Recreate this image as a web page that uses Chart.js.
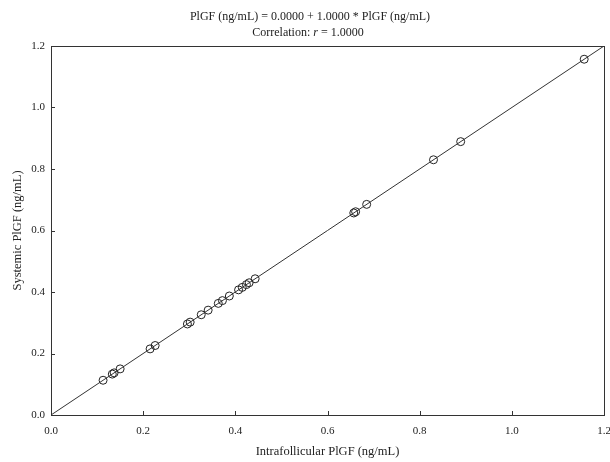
<!DOCTYPE html>
<html>
<head>
<meta charset="utf-8">
<script src="https://cdn.jsdelivr.net/npm/chart.js@4"></script>
<style>
html,body{margin:0;padding:0;background:#fff;}
#wrap{width:610px;height:462px;}
</style>
</head>
<body>
<div id="wrap"><canvas id="c" width="610" height="462"></canvas></div>
<script>
// ---- data ----
const intrafollicular = [0.113,0.133,0.137,0.150,0.215,0.226,0.296,0.302,0.326,0.341,0.363,0.372,0.387,0.407,0.415,0.424,0.430,0.443,0.657,0.661,0.685,0.830,0.889,1.157];
const systemic        = [0.113,0.133,0.137,0.150,0.215,0.226,0.296,0.302,0.326,0.341,0.363,0.372,0.387,0.407,0.415,0.424,0.430,0.443,0.657,0.661,0.685,0.830,0.889,1.157];
const fitIntercept = 0.0;
const fitSlope = 1.0;
const fitRange = [0.0, 1.2];
const axisTicks = [0.0, 0.2, 0.4, 0.6, 0.8, 1.0, 1.2];
const titleLine1 = "PlGF (ng/mL) = 0.0000 + 1.0000 * PlGF (ng/mL)";
const titleLine2Parts = ["Correlation: ", "r", " = 1.0000"];
const xTitle = "Intrafollicular PlGF (ng/mL)";
const yTitle = "Systemic PlGF (ng/mL)";

const FONT = "'Liberation Serif','Times New Roman',serif";
const TXT = "#222";

const points = intrafollicular.map((x,i)=>({x:x, y:systemic[i]}));
const fitLine = fitRange.map(x=>({x:x, y:fitIntercept + fitSlope*x}));

const framePlugin = {
  id:'frame',
  afterDraw(chart){
    const {ctx, chartArea:a, scales} = chart;
    ctx.save();
    ctx.strokeStyle = '#333';
    ctx.lineWidth = 1;
    ctx.strokeRect(a.left+0.5, a.top+0.5, a.right-a.left, a.bottom-a.top);
    ctx.beginPath();
    axisTicks.forEach(v=>{
      const px = Math.round(scales.x.getPixelForValue(v))+0.5;
      ctx.moveTo(px, a.bottom); ctx.lineTo(px, a.bottom-4);
      const py = Math.round(scales.y.getPixelForValue(v))+0.5;
      ctx.moveTo(a.left, py); ctx.lineTo(a.left+4, py);
    });
    ctx.stroke();
    // title
    ctx.fillStyle = TXT;
    ctx.textBaseline = 'middle';
    ctx.textAlign = 'center';
    const cx = 310;
    ctx.font = "12px " + FONT;
    ctx.fillText(titleLine1, cx, 17);
    const fN = "12px " + FONT, fI = "italic 12px " + FONT;
    ctx.textAlign = 'left';
    const widths = titleLine2Parts.map((t,i)=>{ctx.font = i===1?fI:fN; return ctx.measureText(t).width;});
    let x = cx - 2 - widths.reduce((s,w)=>s+w,0)/2;
    titleLine2Parts.forEach((t,i)=>{ctx.font = i===1?fI:fN; ctx.fillText(t, x, 33); x += widths[i];});
    ctx.restore();
  }
};

new Chart(document.getElementById('c'), {
  data:{
    datasets:[
      {type:'scatter', data:points, borderColor:'#222', backgroundColor:'rgba(0,0,0,0)', borderWidth:1, pointRadius:4, pointHoverRadius:4, order:2},
      {type:'line', data:fitLine, borderColor:'#333', borderWidth:1, pointRadius:0, fill:false, order:1}
    ]
  },
  options:{
    responsive:false,
    animation:false,
    events:[],
    layout:{padding:{left:0, right:6, top:46, bottom:0}},
    plugins:{legend:{display:false}, tooltip:{enabled:false}, title:{display:false}},
    scales:{
      x:{
        type:'linear', min:0, max:1.2,
        afterBuildTicks(s){ s.ticks = axisTicks.map(v=>({value:v})); },
        afterFit(s){ s.height = 47; s.paddingLeft = 0; s.paddingRight = 0; },
        grid:{display:false, drawTicks:false},
        border:{display:false},
        ticks:{padding:10, color:TXT, font:{family:FONT, size:11}, maxRotation:0, callback:v=>v.toFixed(1)},
        title:{display:true, text:xTitle, color:TXT, font:{family:FONT, size:12.5}, padding:{top:0, bottom:3}}
      },
      y:{
        type:'linear', min:0, max:1.2,
        afterBuildTicks(s){ s.ticks = axisTicks.map(v=>({value:v})); },
        afterFit(s){ s.width = 51; s.paddingTop = 0; s.paddingBottom = 0; },
        grid:{display:false, drawTicks:false},
        border:{display:false},
        ticks:{padding:6, color:TXT, font:{family:FONT, size:11}, callback:v=>v.toFixed(1)},
        title:{display:true, text:yTitle, color:TXT, font:{family:FONT, size:12.5}, padding:{top:10, bottom:0}}
      }
    }
  },
  plugins:[framePlugin]
});
</script>
</body>
</html>
